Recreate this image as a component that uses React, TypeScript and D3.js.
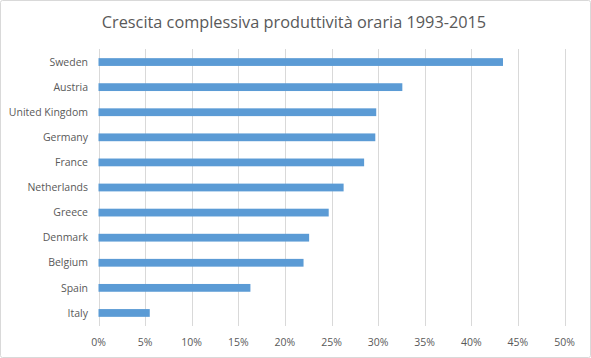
import React from 'react';
import * as d3 from 'd3';

const countries = ['Sweden', 'Austria', 'United Kingdom', 'Germany', 'France', 'Netherlands', 'Greece', 'Denmark', 'Belgium', 'Spain', 'Italy'];
const growth = [0.434, 0.326, 0.298, 0.297, 0.285, 0.263, 0.247, 0.226, 0.220, 0.163, 0.055];
const ticks = [0, 0.05, 0.1, 0.15, 0.2, 0.25, 0.3, 0.35, 0.4, 0.45, 0.5];

const W = 591;
const H = 358;
const font = '"Open Sans", "Liberation Sans", sans-serif';

export default function App() {
  const x = d3.scaleLinear().domain([0, 0.5]).range([98.5, 564.5]);
  const y = d3.scaleBand<string>().domain(countries).range([49.5, 325.5]).paddingInner(0.69).paddingOuter(0.345);
  const fmt = d3.format('.0%');

  return (
    <svg width={W} height={H} style={{ position: 'absolute', left: 0, top: 0 }}>
      <rect x={0.5} y={0.5} width={W - 1} height={H - 1} rx={2} fill="#fff" stroke="#d9d9d9" />
      <text x={294} y={28} textAnchor="middle" fontFamily={font} fontSize={16.3} fill="#595959">
        Crescita complessiva produttività oraria 1993-2015
      </text>
      {ticks.map(t => (
        <g key={t}>
          <line x1={Math.round(x(t)) + 0.5} x2={Math.round(x(t)) + 0.5} y1={49} y2={326} stroke="#d9d9d9" />
          <text x={x(t)} y={346} textAnchor="middle" fontFamily={font} fontSize={10.5} fill="#595959">{fmt(t)}</text>
        </g>
      ))}
      {countries.map((c, i) => (
        <g key={c}>
          <rect x={x(0)} y={y(c)!} width={x(growth[i]) - x(0)} height={y.bandwidth()} fill="#5b9bd5" />
          <text x={88} y={y(c)! + y.bandwidth() / 2} dy="0.35em" textAnchor="end" fontFamily={font} fontSize={10.5} fill="#595959">{c}</text>
        </g>
      ))}
    </svg>
  );
}
